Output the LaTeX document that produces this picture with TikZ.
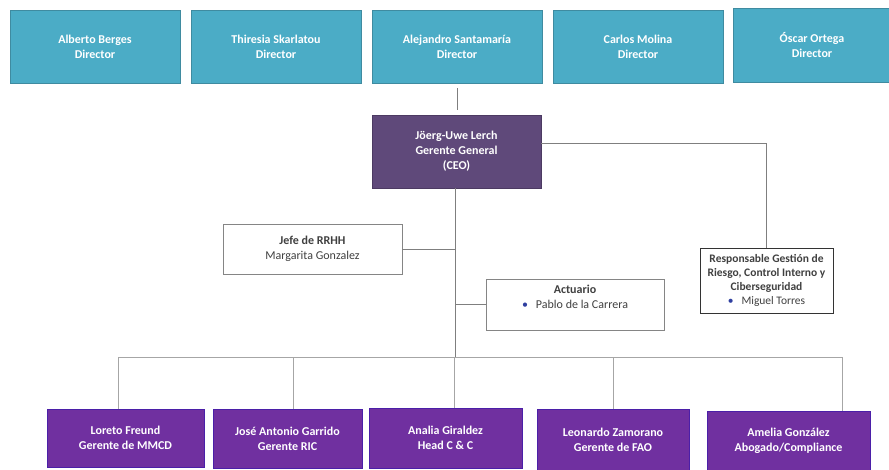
\documentclass[tikz,border=0pt]{standalone}
\usepackage{fontspec}
\setmainfont{Carlito}
\usetikzlibrary{calc}
\definecolor{dirblue}{HTML}{4BACC6}
\definecolor{dirborder}{HTML}{3F8BA0}
\definecolor{ceopurple}{HTML}{5F497A}
\definecolor{mgrpurple}{HTML}{7030A0}
\definecolor{mgrborder}{HTML}{4B1FA8}
\definecolor{linegray}{HTML}{A6A6A6}
\definecolor{trunkgray}{HTML}{7F7F7F}
\definecolor{txtgray}{HTML}{404040}
\definecolor{bulletblue}{HTML}{2F3FA0}
\begin{document}
\begin{tikzpicture}[x=1pt,y=-1pt,
  every node/.style={inner sep=0pt, align=center},
  dirbox/.style={draw=dirborder, fill=dirblue, text=white, font=\fontsize{12}{15}\selectfont\bfseries},
  ceobox/.style={draw=ceopurple!80!black, fill=ceopurple, text=white, font=\fontsize{12}{15}\selectfont\bfseries},
  mgrbox/.style={draw=mgrborder, line width=0.8pt, fill=mgrpurple, text=white, font=\fontsize{12}{15}\selectfont\bfseries},
  staffbox/.style={draw=linegray!80!black, fill=white, text=txtgray, font=\fontsize{12}{15}\selectfont},
  riskbox/.style={draw=black!80, line width=0.8pt, fill=white, text=txtgray, font=\fontsize{11.5}{14}\selectfont},
  conn/.style={draw=linegray, line width=0.7pt},
  trunk/.style={draw=trunkgray, line width=0.8pt}
]
\useasboundingbox (0,0) rectangle (889,470);

% Directors
\node[dirbox, minimum width=170, minimum height=73] (d1) at (95,46.5) {Alberto Berges\\Director};
\node[dirbox, minimum width=170, minimum height=73] (d2) at (276,46.5) {Thiresia Skarlatou\\Director};
\node[dirbox, minimum width=170, minimum height=73] (d3) at (457,46.5) {Alejandro Santamaría\\Director};
\node[dirbox, minimum width=170, minimum height=73] (d4) at (638,46.5) {Carlos Molina\\Director};
\node[dirbox, minimum width=158, minimum height=74] (d5) at (812,45) {Óscar Ortega\\Director};

% CEO
\node[ceobox, minimum width=169, minimum height=73] (ceo) at (456.5,151.5) {Jöerg-Uwe Lerch\\Gerente General\\(CEO)};

% Staff
\node[staffbox, minimum width=179, minimum height=50] (hr) at (312.5,249) {\textbf{Jefe de RRHH}\\Margarita Gonzalez};
\node[staffbox, minimum width=178, minimum height=51] (act) at (575,304.5) {\textbf{Actuario}\\{\color{bulletblue}\textbullet}\hspace{8pt}Pablo de la Carrera\\[0pt]};
\node[riskbox, minimum width=133, minimum height=65] (risk) at (766.5,280.5) {\textbf{Responsable Gestión de}\\\textbf{Riesgo, Control Interno y}\\\textbf{Ciberseguridad}\\{\color{bulletblue}\textbullet}\hspace{8pt}Miguel Torres};

% Managers
\node[mgrbox, minimum width=157, minimum height=58] (b1) at (125.5,438) {Loreto Freund\\Gerente de MMCD};
\node[mgrbox, minimum width=149, minimum height=59] (b2) at (287.5,438.5) {José Antonio Garrido\\Gerente RIC};
\node[mgrbox, minimum width=153, minimum height=60] (b3) at (445.5,438) {Analia Giraldez\\Head C \& C};
\node[mgrbox, minimum width=152, minimum height=61] (b4) at (613,439.5) {Leonardo Zamorano\\Gerente de FAO};
\node[mgrbox, minimum width=163, minimum height=59] (b5) at (788.5,441) {Amelia González\\Abogado/Compliance};

% Connectors
\draw[trunk, shorten <=5pt, shorten >=5pt] (d3.south) -- (d3.south |- ceo.north);
\coordinate (bus) at (455,357);
\draw[trunk] (ceo.south -| bus) -- (bus);
\draw[trunk] (hr.east) -- (hr.east -| bus);
\draw[trunk] (act.west) -- (act.west -| bus);
\coordinate (rk) at ($(ceo.east)+(0,-8.5)$);
\draw[conn, draw=trunkgray] (rk) -| (risk.north);

\coordinate (p1) at (118,357);
\coordinate (p2) at (293,357);
\coordinate (p3) at (454,357);
\coordinate (p4) at (613,357);
\coordinate (p5) at (842,357);
\draw[conn] (p1) -- (p5);
\draw[conn] (p1) -- (p1 |- b1.north);
\draw[conn] (p2) -- (p2 |- b2.north);
\draw[conn] (p3) -- (p3 |- b3.north);
\draw[conn] (p4) -- (p4 |- b4.north);
\draw[conn] (p5) -- (p5 |- b5.north);
\end{tikzpicture}
\end{document}
